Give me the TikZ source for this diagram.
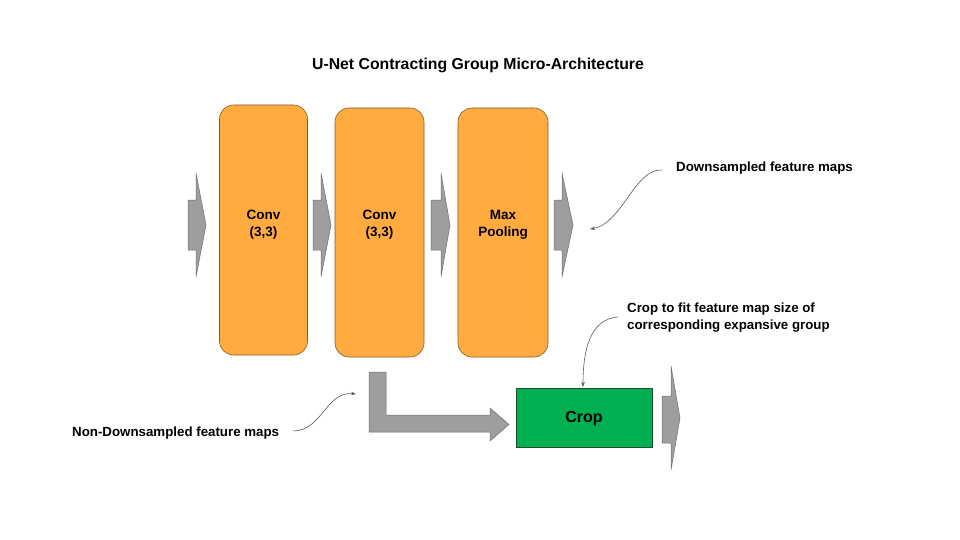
\documentclass[tikz,border=0pt]{standalone}
\usepackage{fontspec}
\setmainfont{Liberation Sans}
\usetikzlibrary{arrows.meta}
\definecolor{orng}{HTML}{FFAB40}
\definecolor{orngdk}{HTML}{8A5A1E}
\definecolor{grn}{HTML}{00B050}
\definecolor{grndk}{HTML}{1E4D2B}
\definecolor{gry}{HTML}{9E9E9E}
\definecolor{grydk}{HTML}{6E6E6E}
\definecolor{callc}{HTML}{595959}
\tikzset{
  opbox/.style={draw=orngdk, line width=0.6pt, fill=orng, rounded corners=14pt, inner sep=0pt},
  optext/.style={font=\fontsize{13.5}{17}\selectfont\bfseries, align=center, inner sep=0pt},
  cropbox/.style={draw=grndk, line width=0.6pt, fill=grn, inner sep=0pt},
  croptext/.style={font=\fontsize{16}{19}\selectfont\bfseries, inner sep=0pt},
  blockarrow/.style={draw=grydk, line width=0.5pt, fill=gry},
  lbl/.style={font=\fontsize{13.3}{16.5}\selectfont\bfseries, align=left, inner sep=0pt, anchor=west},
  callout/.style={draw=callc, line width=0.6pt, -{Stealth[length=5pt,width=3.5pt]}}
}
\begin{document}
\begin{tikzpicture}[x=1pt,y=-1pt]
\useasboundingbox (0,0) rectangle (960,540);
\node[font=\fontsize{15.8}{19}\selectfont\bfseries] (title) at (478,65) {U-Net Contracting Group Micro-Architecture};
% boxes
\node[opbox, minimum width=88pt, minimum height=250pt] (conv1) at (263.5,230) {};
\node[opbox, minimum width=89pt, minimum height=249pt] (conv2) at (379.5,232.5) {};
\node[opbox, minimum width=90pt, minimum height=249pt] (pool) at (503,232.5) {};
\node[optext] (conv1t) at (conv1 |- 0,225) {Conv\\(3,3)};
\node[optext] (conv2t) at (conv2 |- 0,225) {Conv\\(3,3)};
\node[optext] (poolt) at (pool |- 0,225) {Max\\Pooling};
\node[cropbox, minimum width=136pt, minimum height=59pt] (crop) at (584,417.5) {};
\node[croptext] (cropt) at (584,419) {Crop};
% block arrows (chevrons)
\foreach \xa/\xb/\xc in {188/196/206, 313/321/331, 431/441/450, 554/562/573}{
  \path[blockarrow] (\xa,200) -- (\xb,200) -- (\xb,173) -- (\xc,225) -- (\xb,277) -- (\xb,250) -- (\xa,250) -- cycle;
}
\path[blockarrow] (662,396) -- (671,396) -- (671,366) -- (680,418) -- (671,470) -- (671,443) -- (662,443) -- cycle;
% L arrow
\path[blockarrow] (369,372) -- (386,372) -- (386,415) -- (490,415) -- (490,408) -- (509,424.5) -- (490,441) -- (490,432) -- (369,432) -- cycle;
% labels
\node[lbl] (down) at (676,168) {Downsampled feature maps};
\node[lbl] (nondown) at (72,433) {Non-Downsampled feature maps};
\node[lbl] (fit) at (627,317.5) {Crop to fit feature map size of\\corresponding expansive group};
\coordinate (downstart) at (662,170);
\coordinate (nondownstart) at (293,431);
\coordinate (fitstart) at (618,317);
\coordinate (downend) at (590,229);
\coordinate (nondownend) at (356,394);
\coordinate (fitend) at (583,387);
\draw[callout] (downstart) .. controls (635,168) and (622,224) .. (downend);
\draw[callout] (nondownstart) .. controls (322,431) and (326,391) .. (nondownend);
\draw[callout] (fitstart) .. controls (590,319) and (583,350) .. (fitend);
\end{tikzpicture}
\end{document}
